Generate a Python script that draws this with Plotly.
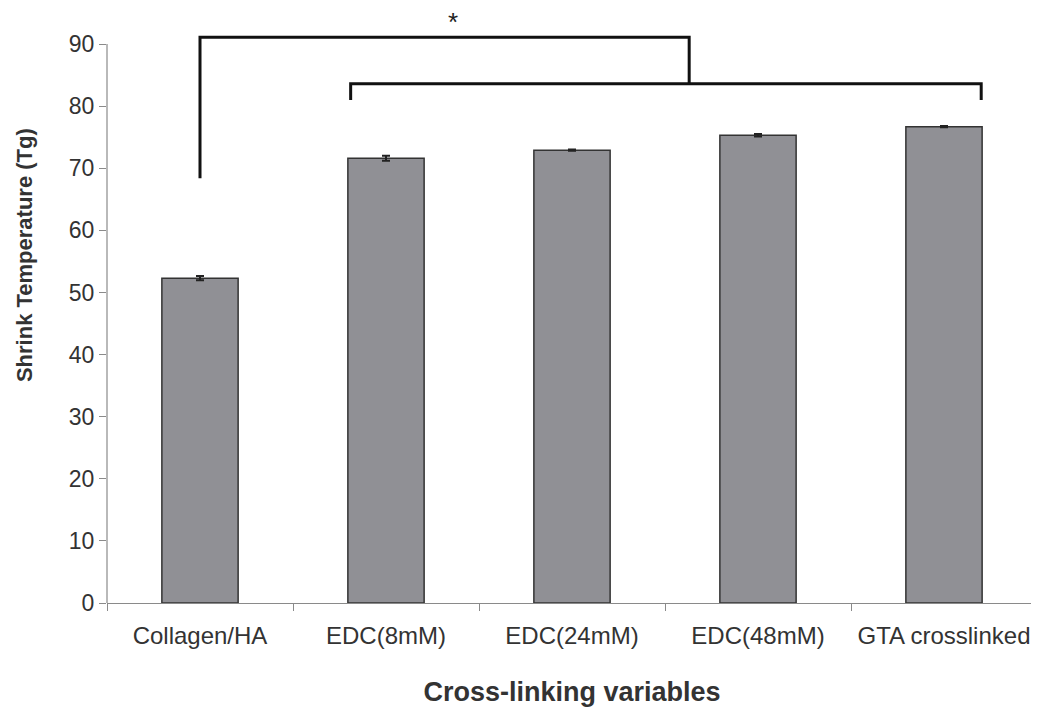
import plotly.graph_objects as go

categories = ["Collagen/HA", "EDC(8mM)", "EDC(24mM)", "EDC(48mM)", "GTA crosslinked"]
shrink_temp = [52.3, 71.6, 72.9, 75.3, 76.7]
errors = [0.35, 0.4, 0.1, 0.2, 0.1]
y_ticks = [0, 10, 20, 30, 40, 50, 60, 70, 80, 90]

fig = go.Figure()
fig.add_trace(go.Bar(
    x=categories, y=shrink_temp,
    error_y=dict(type="data", array=errors, visible=True, color="#222222", thickness=2, width=4),
    marker=dict(color="#909095", line=dict(color="#333333", width=1.5)),
    width=0.41,
))

# y-axis line drawn only up to 90
fig.add_shape(type="line", xref="paper", yref="y", x0=0, x1=0, y0=0, y1=90,
              line=dict(color="#8a8a8a", width=1.2))

# significance brackets (in category index / data coords)
br = dict(color="#111111", width=3)
fig.add_shape(type="path", xref="x", yref="y",
              path="M 0,68.4 L 0,91.1 L 2.63,91.1 L 2.63,83.6", line=br)
fig.add_shape(type="path", xref="x", yref="y",
              path="M 0.81,81.0 L 0.81,83.6 L 4.2,83.6 L 4.2,81.0", line=br)
fig.add_annotation(x=1.36, y=93.6, xref="x", yref="y", text="*", showarrow=False,
                   font=dict(size=26, color="#222222"))

# y-axis title (placed as in the reference, above the plot centre)
fig.add_annotation(x=-0.088, y=0.585, xref="paper", yref="paper", text="<b>Shrink Temperature (Tg)</b>",
                   xanchor="center", yanchor="middle",
                   textangle=-90, showarrow=False, font=dict(size=22, color="#333333"))

fig.update_layout(
    width=1039, height=707,
    margin=dict(l=99, r=10, t=0, b=112),
    plot_bgcolor="white", paper_bgcolor="white",
    showlegend=False,
    font=dict(family="Liberation Sans, Arial, sans-serif", color="#333333"),
    xaxis=dict(
        range=[-0.5, 4.5], tickson="boundaries", ticks="outside", ticklen=7,
        tickcolor="#8a8a8a", showline=True, linecolor="#8a8a8a", linewidth=1.2,
        tickfont=dict(size=24, color="#333333"), ticklabelstandoff=11,
        title=dict(text="<b>Cross-linking variables</b>", font=dict(size=27, color="#333333"), standoff=34),
        showgrid=False, automargin=False,
    ),
    yaxis=dict(
        range=[0, 95.8], tickvals=y_ticks, ticks="outside", ticklen=7, tickcolor="#8a8a8a",
        showline=False, showgrid=False, zeroline=False,
        tickfont=dict(size=23, color="#333333"),
        automargin=False,
    ),
)

fig.write_html("out.html")
